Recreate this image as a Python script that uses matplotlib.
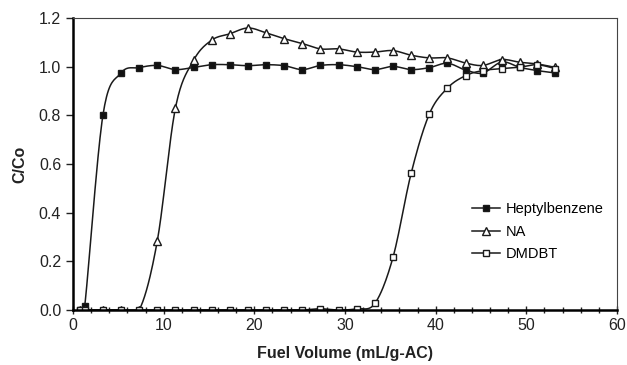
import numpy as np
import matplotlib
matplotlib.use("Agg")
import matplotlib.pyplot as plt
from matplotlib.ticker import MultipleLocator, FormatStrFormatter

plt.rcParams['font.family'] = ['Liberation Sans', 'DejaVu Sans']

# data
x_common = [0.8, 1.3, 3.3, 5.3, 7.3, 9.3, 11.3, 13.3, 15.3, 17.3, 19.3, 21.3, 23.3,
            25.3, 27.3, 29.3, 31.3, 33.3, 35.3, 37.3, 39.3, 41.3, 43.3, 45.2,
            47.3, 49.3, 51.2, 53.2]

heptyl = [0.0, 0.018, 0.80, 0.974, 0.996, 1.005, 0.988, 0.997, 1.008, 1.008, 1.004,
          1.008, 1.004, 0.988, 1.005, 1.008, 1.0, 0.988, 1.001, 0.988, 0.996,
          1.014, 0.986, 0.974, 1.019, 0.997, 0.984, 0.974]

na = [0.0, 0.0, 0.0, 0.0, 0.0, 0.284, 0.83, 1.026, 1.109, 1.135, 1.159, 1.139,
      1.115, 1.095, 1.073, 1.073, 1.06, 1.06, 1.066, 1.047, 1.036, 1.036,
      1.015, 1.005, 1.029, 1.018, 1.011, 0.997]

dmdbt = [0.0, 0.0, 0.0, 0.0, 0.0, 0.0, 0.0, 0.0, 0.0, 0.0, 0.0, 0.0, 0.0, 0.0,
         0.005, 0.0, 0.005, 0.027, 0.217, 0.562, 0.805, 0.912, 0.963, 0.984,
         0.992, 0.998, 1.008, 0.992]

labels = ["Heptylbenzene", "NA", "DMDBT"]
markers = ["s", "^", "s"]
faces = ["#111111", "white", "white"]


def smooth(x, y, n=20):
    # catmull-rom curve through the points (like excel's smoothed line)
    x = np.asarray(x, float)
    y = np.asarray(y, float)
    px = np.concatenate([[x[0]], x, [x[-1]]])
    py = np.concatenate([[y[0]], y, [y[-1]]])
    xs, ys = [], []
    t = np.linspace(0, 1, n, endpoint=False)
    for i in range(1, len(px) - 2):
        for p, out in ((px, xs), (py, ys)):
            p0, p1, p2, p3 = p[i - 1], p[i], p[i + 1], p[i + 2]
            m1 = (p2 - p0) / 2
            m2 = (p3 - p1) / 2
            h00 = 2 * t**3 - 3 * t**2 + 1
            h10 = t**3 - 2 * t**2 + t
            h01 = -2 * t**3 + 3 * t**2
            h11 = t**3 - t**2
            out.extend(h00 * p1 + h10 * m1 + h01 * p2 + h11 * m2)
    xs.append(x[-1])
    ys.append(y[-1])
    return xs, ys


fig = plt.figure(figsize=(6.27, 3.65), dpi=100)
ax = fig.add_axes([0.1164, 0.1507, 0.8676, 0.8])

for yv, lab, mk, fc in zip([heptyl, na, dmdbt], labels, markers, faces):
    sx, sy = smooth(x_common, yv)
    ax.plot(sx, sy, color="#1a1a1a", lw=1.1)
    ax.plot(x_common, yv, ls="none", marker=mk, ms=5 if mk == "s" else 6,
            mfc=fc, mec="#1a1a1a", mew=1.0)
    ax.plot([], [], color="#1a1a1a", lw=1.1, marker=mk, ms=5 if mk == "s" else 6,
            mfc=fc, mec="#1a1a1a", mew=1.0, label=lab)

ax.set_xlim(0, 60)
ax.set_ylim(0, 1.2)
ax.xaxis.set_major_locator(MultipleLocator(10))
ax.xaxis.set_minor_locator(MultipleLocator(2))
ax.yaxis.set_major_locator(MultipleLocator(0.2))
ax.yaxis.set_major_formatter(FormatStrFormatter("%.1f"))
ax.tick_params(axis="x", which="both", direction="inout", length=6, width=1.0,
               labelsize=11.5, colors="#222222", pad=3)
ax.tick_params(axis="x", which="minor", length=5)
ax.tick_params(axis="y", direction="out", length=5, width=1.0, labelsize=11.5,
               colors="#222222")

ax.spines["left"].set_linewidth(1.8)
ax.spines["bottom"].set_linewidth(1.8)
for s in ["top", "right"]:
    ax.spines[s].set_linewidth(0.8)
    ax.spines[s].set_color("#444444")

ax.set_xlabel("Fuel Volume (mL/g-AC)", fontsize=11.5, fontweight="bold", color="#222222",
              labelpad=9)
ax.set_ylabel("C/Co", fontsize=11.5, fontweight="bold", color="#222222", labelpad=8)

ax.legend(loc="upper left", bbox_to_anchor=(0.71, 0.415), frameon=False, fontsize=10.5,
          handlelength=1.9, handletextpad=0.4, labelspacing=0.6)

fig.savefig("out.png", dpi=100)
